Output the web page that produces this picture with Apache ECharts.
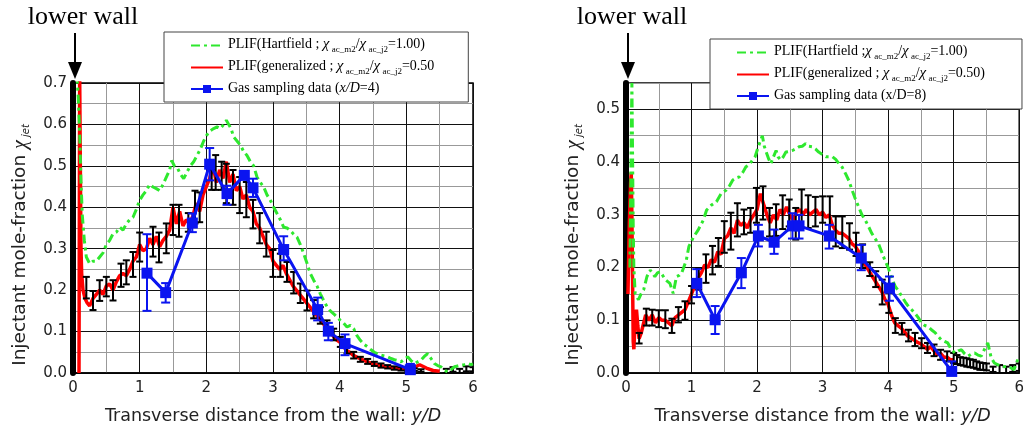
<!DOCTYPE html>
<html>
<head>
<meta charset="utf-8">
<style>
html, body { margin: 0; padding: 0; background: #fff; }
#chart { width: 1027px; height: 434px; }
</style>
<script src="https://cdn.jsdelivr.net/npm/echarts@6/dist/echarts.min.js"></script>
</head>
<body>
<div id="chart"></div>
<script>
// axis ranges
var X_MAX = 6;
var Y_MAX4 = 0.7;
var Y_MAX8 = 0.55;

// ---- x/D = 4 (left) ----
// PLIF Hartfield [y/D, chi]
var hart4 = [[0.06,0.72],[0.08,0.66],[0.10,0.58],[0.12,0.46],[0.14,0.38],[0.17,0.32],[0.20,0.28],[0.25,0.264],[0.30,0.27],[0.35,0.27],[0.40,0.28],[0.45,0.29],[0.50,0.31],[0.55,0.32],[0.60,0.336],[0.65,0.34],[0.70,0.352],[0.75,0.345],[0.80,0.36],[0.85,0.37],[0.90,0.376],[0.95,0.395],[1.00,0.417],[1.05,0.43],[1.10,0.44],[1.15,0.455],[1.20,0.449],[1.25,0.445],[1.30,0.44],[1.35,0.455],[1.40,0.473],[1.45,0.49],[1.48,0.513],[1.52,0.50],[1.56,0.497],[1.61,0.48],[1.66,0.469],[1.71,0.485],[1.76,0.50],[1.81,0.51],[1.86,0.525],[1.91,0.54],[1.96,0.56],[2.01,0.575],[2.06,0.585],[2.11,0.59],[2.16,0.594],[2.21,0.59],[2.26,0.60],[2.30,0.61],[2.33,0.611],[2.37,0.59],[2.41,0.57],[2.46,0.56],[2.51,0.55],[2.56,0.535],[2.61,0.525],[2.66,0.51],[2.71,0.50],[2.76,0.473],[2.81,0.46],[2.86,0.449],[2.91,0.43],[2.96,0.417],[3.01,0.40],[3.06,0.385],[3.11,0.37],[3.16,0.352],[3.21,0.35],[3.26,0.344],[3.31,0.335],[3.36,0.328],[3.41,0.31],[3.46,0.288],[3.51,0.265],[3.56,0.24],[3.61,0.224],[3.66,0.21],[3.71,0.191],[3.76,0.175],[3.81,0.16],[3.86,0.15],[3.91,0.143],[3.96,0.135],[4.01,0.127],[4.06,0.12],[4.11,0.111],[4.16,0.115],[4.21,0.107],[4.26,0.09],[4.31,0.079],[4.36,0.07],[4.42,0.063],[4.47,0.056],[4.52,0.05],[4.57,0.046],[4.62,0.043],[4.67,0.041],[4.72,0.039],[4.77,0.035],[4.82,0.032],[4.87,0.03],[4.92,0.027],[4.97,0.033],[5.02,0.039],[5.07,0.03],[5.12,0.023],[5.17,0.027],[5.22,0.031],[5.27,0.04],[5.32,0.047],[5.37,0.035],[5.42,0.023],[5.47,0.018],[5.52,0.015],[5.57,0.008],[5.62,0.002],[5.67,0.008],[5.72,0.015],[5.77,0.017],[5.82,0.019],[5.87,0.02],[5.92,0.023],[5.97,0.02],[6.0,0.022]];
// PLIF generalized
var gen4 = [[0.09,0.0],[0.10,0.72],[0.11,0.5],[0.12,0.3],[0.13,0.24],[0.15,0.2],[0.18,0.18],[0.21,0.17],[0.25,0.162],[0.28,0.165],[0.30,0.18],[0.35,0.19],[0.40,0.20],[0.45,0.19],[0.50,0.21],[0.55,0.215],[0.60,0.20],[0.65,0.22],[0.70,0.235],[0.75,0.24],[0.80,0.235],[0.85,0.25],[0.90,0.27],[0.95,0.28],[1.00,0.31],[1.05,0.295],[1.10,0.30],[1.15,0.325],[1.20,0.31],[1.25,0.33],[1.30,0.305],[1.35,0.32],[1.40,0.33],[1.45,0.345],[1.50,0.40],[1.55,0.36],[1.60,0.39],[1.65,0.355],[1.70,0.37],[1.75,0.36],[1.80,0.38],[1.85,0.41],[1.90,0.39],[1.95,0.43],[2.00,0.45],[2.05,0.47],[2.10,0.50],[2.15,0.46],[2.20,0.49],[2.25,0.47],[2.30,0.51],[2.35,0.46],[2.40,0.48],[2.45,0.44],[2.50,0.45],[2.55,0.42],[2.60,0.43],[2.65,0.40],[2.70,0.39],[2.75,0.36],[2.80,0.35],[2.85,0.33],[2.90,0.31],[2.95,0.30],[3.00,0.27],[3.05,0.26],[3.10,0.25],[3.15,0.26],[3.20,0.24],[3.25,0.225],[3.30,0.21],[3.35,0.20],[3.40,0.19],[3.45,0.18],[3.50,0.17],[3.55,0.16],[3.60,0.15],[3.65,0.14],[3.70,0.13],[3.75,0.12],[3.80,0.11],[3.85,0.10],[3.90,0.09],[3.95,0.08],[4.00,0.075],[4.05,0.065],[4.10,0.055],[4.15,0.05],[4.20,0.043],[4.30,0.035],[4.40,0.028],[4.50,0.022],[4.60,0.018],[4.70,0.015],[4.80,0.012],[4.90,0.01],[5.00,0.01],[5.10,0.012],[5.20,0.02],[5.30,0.012],[5.40,0.006],[5.50,0.004]];
// error bars of generalized PLIF [y/D, low, high]
var err4 = [[0.20,0.180,0.232],[0.30,0.152,0.198],[0.40,0.174,0.224],[0.50,0.185,0.232],[0.60,0.175,0.224],[0.72,0.208,0.264],[0.80,0.214,0.272],[0.90,0.232,0.292],[1.00,0.269,0.339],[1.20,0.281,0.353],[1.29,0.267,0.339],[1.40,0.289,0.361],[1.50,0.333,0.406],[1.59,0.329,0.406],[1.73,0.341,0.386],[1.83,0.361,0.440],[1.90,0.364,0.436],[2.08,0.442,0.490],[2.14,0.442,0.526],[2.23,0.442,0.510],[2.30,0.410,0.505],[2.40,0.406,0.490],[2.50,0.386,0.473],[2.60,0.376,0.461],[2.70,0.349,0.418],[2.80,0.313,0.386],[2.90,0.281,0.341],[3.00,0.232,0.297],[3.11,0.232,0.288],[3.21,0.220,0.268],[3.31,0.192,0.244],[3.41,0.169,0.216],[3.51,0.151,0.199],[3.61,0.132,0.176],[3.71,0.119,0.159],[3.81,0.095,0.127],[3.91,0.079,0.107],[4.01,0.063,0.087],[4.11,0.047,0.063],[4.21,0.035,0.051],[4.31,0.027,0.039],[4.42,0.022,0.034],[4.52,0.017,0.027],[4.62,0.013,0.023],[4.72,0.011,0.019],[4.82,0.008,0.016],[4.92,0.006,0.014],[5.02,0.005,0.011],[5.12,0.005,0.011],[5.22,0.003,0.009],[5.60,0.000,0.010],[5.70,0.003,0.014],[5.80,0.000,0.010],[5.90,0.004,0.016],[6.00,0.004,0.014]];
// gas sampling x/D=4
var gas4 = [[1.11,0.241],[1.39,0.194],[1.79,0.362],[2.05,0.504],[2.31,0.433],[2.57,0.477],[2.70,0.447],[3.16,0.298],[3.67,0.153],[3.83,0.101],[4.08,0.071],[5.06,0.008]];
var gasErr4 = [[1.11,0.150,0.335],[1.39,0.170,0.217],[1.79,0.340,0.385],[2.05,0.465,0.543],[2.31,0.406,0.452],[2.57,0.468,0.486],[2.70,0.425,0.469],[3.16,0.272,0.330],[3.67,0.127,0.182],[3.83,0.079,0.121],[4.08,0.043,0.093],[5.06,-0.01,0.022]];

// ---- x/D = 8 (right) ----
var hart8 = [[0.06,0.2],[0.08,0.45],[0.09,0.55],[0.10,0.42],[0.11,0.28],[0.12,0.2],[0.14,0.15],[0.19,0.139],[0.23,0.15],[0.27,0.158],[0.32,0.183],[0.37,0.195],[0.40,0.19],[0.44,0.183],[0.48,0.19],[0.52,0.192],[0.56,0.185],[0.60,0.177],[0.67,0.17],[0.72,0.151],[0.77,0.183],[0.81,0.185],[0.85,0.19],[0.88,0.2],[0.92,0.214],[0.96,0.24],[1.03,0.258],[1.10,0.271],[1.18,0.29],[1.23,0.309],[1.30,0.318],[1.38,0.325],[1.45,0.34],[1.53,0.347],[1.58,0.355],[1.63,0.366],[1.68,0.37],[1.73,0.372],[1.78,0.38],[1.83,0.391],[1.88,0.395],[1.93,0.404],[1.97,0.41],[2.01,0.426],[2.05,0.44],[2.08,0.45],[2.11,0.43],[2.14,0.419],[2.18,0.405],[2.21,0.397],[2.25,0.41],[2.29,0.422],[2.32,0.41],[2.36,0.404],[2.40,0.41],[2.44,0.419],[2.49,0.42],[2.54,0.422],[2.59,0.425],[2.64,0.429],[2.69,0.43],[2.74,0.435],[2.79,0.43],[2.84,0.429],[2.89,0.425],[2.94,0.419],[2.99,0.415],[3.05,0.41],[3.10,0.41],[3.15,0.41],[3.20,0.405],[3.25,0.397],[3.30,0.39],[3.35,0.378],[3.40,0.365],[3.45,0.347],[3.50,0.33],[3.55,0.315],[3.60,0.30],[3.65,0.29],[3.70,0.278],[3.75,0.265],[3.80,0.255],[3.85,0.246],[3.90,0.23],[3.95,0.214],[4.00,0.2],[4.03,0.189],[4.07,0.175],[4.11,0.164],[4.16,0.155],[4.21,0.145],[4.26,0.135],[4.31,0.126],[4.36,0.12],[4.41,0.113],[4.46,0.105],[4.51,0.095],[4.56,0.09],[4.61,0.088],[4.66,0.082],[4.72,0.076],[4.76,0.07],[4.81,0.063],[4.86,0.06],[4.91,0.057],[4.96,0.045],[5.02,0.038],[5.07,0.042],[5.12,0.044],[5.17,0.036],[5.22,0.032],[5.27,0.036],[5.32,0.038],[5.37,0.034],[5.42,0.032],[5.47,0.045],[5.52,0.057],[5.57,0.03],[5.62,0.019],[5.67,0.016],[5.72,0.013],[5.77,0.012],[5.82,0.013],[5.87,0.01],[5.92,0.006],[5.96,0.02],[6.0,0.032]];
var gen8 = [[0.03,0.15],[0.05,0.28],[0.07,0.36],[0.08,0.38],[0.09,0.3],[0.10,0.18],[0.11,0.06],[0.12,0.045],[0.14,0.1],[0.16,0.12],[0.18,0.09],[0.20,0.065],[0.23,0.075],[0.26,0.09],[0.30,0.11],[0.35,0.10],[0.40,0.11],[0.45,0.095],[0.50,0.105],[0.55,0.10],[0.60,0.10],[0.65,0.095],[0.70,0.09],[0.75,0.105],[0.80,0.11],[0.85,0.115],[0.90,0.12],[0.95,0.135],[1.00,0.15],[1.05,0.165],[1.10,0.18],[1.15,0.19],[1.20,0.205],[1.25,0.20],[1.30,0.215],[1.35,0.21],[1.40,0.23],[1.45,0.225],[1.50,0.255],[1.55,0.26],[1.60,0.275],[1.65,0.265],[1.70,0.29],[1.75,0.28],[1.80,0.285],[1.85,0.275],[1.90,0.29],[1.95,0.30],[2.00,0.31],[2.05,0.34],[2.10,0.32],[2.15,0.30],[2.20,0.285],[2.25,0.30],[2.30,0.29],[2.35,0.31],[2.40,0.30],[2.45,0.315],[2.50,0.30],[2.55,0.29],[2.60,0.305],[2.65,0.31],[2.70,0.30],[2.75,0.31],[2.80,0.30],[2.85,0.305],[2.90,0.31],[2.95,0.30],[3.00,0.305],[3.05,0.295],[3.10,0.30],[3.15,0.28],[3.20,0.27],[3.25,0.265],[3.30,0.265],[3.35,0.26],[3.40,0.255],[3.45,0.245],[3.50,0.24],[3.55,0.23],[3.60,0.22],[3.65,0.205],[3.70,0.195],[3.75,0.185],[3.80,0.175],[3.85,0.165],[3.90,0.155],[3.95,0.14],[4.00,0.13],[4.05,0.11],[4.10,0.095],[4.15,0.09],[4.20,0.085],[4.25,0.078],[4.30,0.07],[4.35,0.066],[4.40,0.062],[4.45,0.058],[4.50,0.055],[4.55,0.05],[4.60,0.045],[4.65,0.05],[4.70,0.042],[4.75,0.035],[4.80,0.037],[4.85,0.03],[4.90,0.03],[4.95,0.025],[5.00,0.025]];
var err8 = [[0.20,0.056,0.076],[0.31,0.090,0.122],[0.40,0.090,0.120],[0.50,0.087,0.119],[0.60,0.085,0.119],[0.70,0.076,0.103],[0.80,0.096,0.125],[0.90,0.101,0.136],[1.00,0.132,0.165],[1.11,0.158,0.199],[1.22,0.171,0.225],[1.32,0.187,0.241],[1.41,0.203,0.256],[1.50,0.228,0.288],[1.60,0.234,0.304],[1.70,0.259,0.322],[1.80,0.263,0.310],[1.90,0.266,0.313],[1.99,0.285,0.351],[2.09,0.291,0.354],[2.19,0.259,0.313],[2.29,0.260,0.320],[2.39,0.273,0.337],[2.49,0.278,0.329],[2.59,0.253,0.313],[2.68,0.275,0.348],[2.78,0.275,0.337],[2.89,0.278,0.334],[3.00,0.285,0.335],[3.11,0.266,0.335],[3.20,0.240,0.297],[3.30,0.237,0.297],[3.41,0.234,0.284],[3.51,0.222,0.266],[3.61,0.199,0.244],[3.72,0.184,0.210],[3.81,0.163,0.193],[3.91,0.130,0.177],[4.01,0.114,0.152],[4.11,0.076,0.104],[4.21,0.073,0.095],[4.31,0.060,0.082],[4.41,0.051,0.076],[4.51,0.047,0.066],[4.60,0.038,0.057],[4.70,0.032,0.054],[4.80,0.025,0.044],[4.90,0.022,0.041],[5.00,0.019,0.038],[5.05,0.017,0.034],[5.10,0.015,0.030],[5.15,0.014,0.029],[5.20,0.012,0.028],[5.25,0.011,0.026],[5.30,0.010,0.025],[5.35,0.008,0.022],[5.40,0.006,0.020],[5.45,0.006,0.019],[5.50,0.005,0.018],[5.60,0.002,0.012],[5.70,0.000,0.015],[5.80,0.000,0.012],[5.90,0.002,0.015],[6.00,0.004,0.018]];
var gas8 = [[1.08,0.170],[1.36,0.101],[1.76,0.190],[2.02,0.260],[2.26,0.248],[2.54,0.279],[2.64,0.279],[3.10,0.260],[3.59,0.218],[4.02,0.161],[4.97,0.003]];
var gasErr8 = [[1.08,0.144,0.197],[1.36,0.074,0.127],[1.76,0.161,0.218],[2.02,0.240,0.281],[2.26,0.226,0.272],[2.54,0.255,0.303],[2.64,0.255,0.300],[3.10,0.236,0.281],[3.59,0.195,0.243],[4.02,0.137,0.183],[4.97,-0.01,0.022]];

// legend labels (rich text)
var legendText = {
  hart4: '{t|PLIF(Hartfield ; }{g|χ}{s| ac_m2}{t|/}{g|χ}{s| ac_j2}{t|=1.00)}',
  gen4: '{t|PLIF(generalized ; }{g|χ}{s| ac_m2}{t|/}{g|χ}{s| ac_j2}{t|=0.50}',
  gas4: '{t|Gas sampling data (}{i|x/D}{t|=4)}',
  hart8: '{t|PLIF(Hartfield ;}{g|χ}{s| ac_m2}{t|/}{g|χ}{s| ac_j2}{t|=1.00)}',
  gen8: '{t|PLIF(generalized ; }{g|χ}{s| ac_m2}{t|/}{g|χ}{s| ac_j2}{t|=0.50)}',
  gas8: '{t|Gas sampling data (x/D=8)}'
};

var GREEN = '#2ee82e', RED = '#ff0000', BLUE = '#0a14f0';
var SANS = 'DejaVu Sans', SERIF = 'Liberation Serif';

var myChart = echarts.init(document.getElementById('chart'));

//误差棒
function errBar(color, half, width) {
  return function (params, api) {
    var x = api.value(0);
    var lo = api.coord([x, api.value(1)]);
    var hi = api.coord([x, api.value(2)]);
    var st = {stroke: color, lineWidth: width};
    return {
      type: 'group',
      children: [
        {type: 'line', shape: {x1: lo[0], y1: lo[1], x2: hi[0], y2: hi[1]}, style: st},
        {type: 'line', shape: {x1: hi[0] - half, y1: hi[1], x2: hi[0] + half, y2: hi[1]}, style: st},
        {type: 'line', shape: {x1: lo[0] - half, y1: lo[1], x2: lo[0] + half, y2: lo[1]}, style: st}
      ]
    };
  };
}

function tenth(v) {
  return Math.abs(v * 10 - Math.round(v * 10)) < 1e-6;
}

function makeX(gi) {
  return {
    type: 'value', gridIndex: gi, min: 0, max: X_MAX, interval: 0.5,
    name: '{a|Transverse distance from the wall: }{i|y/D}',
    nameLocation: 'middle', nameGap: 34,
    nameTextStyle: {
      rich: {
        a: {fontFamily: SANS, fontSize: 17.5, color: '#222'},
        i: {fontFamily: SANS, fontSize: 17.5, color: '#222', fontStyle: 'italic'}
      }
    },
    axisLine: {lineStyle: {color: '#000', width: 1.5}},
    axisTick: {show: false},
    axisLabel: {
      margin: 8, fontFamily: SANS, fontSize: 15, color: '#222',
      formatter: function (v) { return Math.abs(v - Math.round(v)) < 1e-6 ? String(Math.round(v)) : ''; }
    },
    splitLine: {show: true, lineStyle: {color: ['#111', '#999'], width: 1}}
  };
}

function makeY(gi, max) {
  return {
    type: 'value', gridIndex: gi, min: 0, max: max, interval: 0.05,
    name: '{a|Injectant mole-fraction }{c|χ}{b| jet}',
    nameLocation: 'middle', nameGap: 42, nameRotate: 90,
    nameTextStyle: {
      padding: [0, 34, 0, 0],
      rich: {
        a: {fontFamily: SANS, fontSize: 18.5, color: '#222', lineHeight: 21},
        c: {fontFamily: SERIF, fontSize: 20, color: '#222', fontStyle: 'italic', lineHeight: 21},
        b: {fontFamily: SANS, fontSize: 10, color: '#222', fontStyle: 'italic', lineHeight: 10, padding: [12, 0, 0, 0]}
      }
    },
    axisLine: {lineStyle: {color: '#000', width: 6}},
    axisTick: {show: false},
    axisLabel: {
      margin: 6, fontFamily: SANS, fontSize: 15, color: '#222',
      formatter: function (v) { return tenth(v) ? v.toFixed(1) : ''; }
    },
    splitLine: {show: true, lineStyle: {color: ['#111', '#999'], width: 1}}
  };
}

// 图例：曲线只显示线，不显示圆点
function makeLegend(left, top, names, padRight) {
  return {
    left: left, top: top, orient: 'vertical', selectedMode: false,
    data: [
      {name: names[0], itemStyle: {opacity: 0}},
      {name: names[1], itemStyle: {opacity: 0}},
      {name: names[2]}
    ],
    backgroundColor: '#fff', borderColor: '#444', borderWidth: 1,
    padding: [5, padRight, 5, 26], itemWidth: 32, itemHeight: 10, itemGap: 5,
    formatter: function (n) { return legendText[n]; },
    textStyle: {
      rich: {
        t: {fontFamily: SERIF, fontSize: 14, color: '#000', lineHeight: 16, padding: [0, 0, 2, 0]},
        i: {fontFamily: SERIF, fontSize: 14, color: '#000', fontStyle: 'italic', lineHeight: 16, padding: [0, 0, 2, 0]},
        g: {fontFamily: SERIF, fontSize: 15, color: '#000', fontStyle: 'italic', lineHeight: 16, padding: [0, 0, 2, 0]},
        s: {fontFamily: SERIF, fontSize: 9, color: '#000', lineHeight: 10, padding: [8, 0, 0, 0]}
      }
    }
  };
}

function lineSeries(name, gi, data, color, width, dash, z) {
  return {
    name: name, type: 'line', xAxisIndex: gi, yAxisIndex: gi, data: data,
    symbol: 'none', smooth: false, z: z, animation: false,
    lineStyle: {color: color, width: width, type: dash || 'solid'},
    itemStyle: {color: color}
  };
}

function gasSeries(name, gi, data) {
  return {
    name: name, type: 'line', xAxisIndex: gi, yAxisIndex: gi, data: data,
    symbol: 'rect', symbolSize: 11, showSymbol: true, z: 6, animation: false,
    lineStyle: {color: BLUE, width: 3},
    itemStyle: {color: BLUE}
  };
}

function errSeries(name, gi, data, color, half, width, z) {
  return {
    name: name, type: 'custom', xAxisIndex: gi, yAxisIndex: gi, data: data,
    encode: {x: 0, y: [1, 2]}, clip: true, z: z, animation: false,
    renderItem: errBar(color, half, width)
  };
}

var DASH = [9, 4, 3, 4];

var option = {
  backgroundColor: '#fff',
  animation: false,
  grid: [
    {left: 73, top: 83, width: 400, height: 290, show: true, borderColor: '#000', borderWidth: 1.5},
    {left: 626, top: 83, width: 397, height: 290, show: true, borderColor: '#000', borderWidth: 1.5}
  ],
  xAxis: [makeX(0), makeX(1)],
  yAxis: [makeY(0, Y_MAX4), makeY(1, Y_MAX8)],
  legend: [
    makeLegend(164, 32, ['hart4', 'gen4', 'gas4'], 34),
    makeLegend(710, 39, ['hart8', 'gen8', 'gas8'], 37)
  ],
  series: [
    lineSeries('gen4', 0, gen4, RED, 3.5, null, 2),
    errSeries('err4', 0, err4, '#000', 3.5, 2, 3),
    lineSeries('hart4', 0, hart4, GREEN, 3, DASH, 4),
    errSeries('gasErr4', 0, gasErr4, BLUE, 4.5, 2, 5),
    gasSeries('gas4', 0, gas4),

    lineSeries('gen8', 1, gen8, RED, 3.5, null, 2),
    errSeries('err8', 1, err8, '#000', 3.5, 2, 3),
    lineSeries('hart8', 1, hart8, GREEN, 3, DASH, 4),
    errSeries('gasErr8', 1, gasErr8, BLUE, 4.5, 2, 5),
    gasSeries('gas8', 1, gas8)
  ]
};

myChart.setOption(option);

// "lower wall" 标注
function wallNote(gi, ymax, dx) {
  var p = myChart.convertToPixel({gridIndex: gi}, [0, ymax]);
  var ax = p[0] + 2;
  return [
    {type: 'text', x: p[0] + dx, y: 17, style: {text: 'lower wall', font: '26px "Liberation Serif"', fill: '#000', align: 'center', verticalAlign: 'middle'}},
    {type: 'line', shape: {x1: ax, y1: 33, x2: ax, y2: 64}, style: {stroke: '#000', lineWidth: 2}},
    {type: 'polygon', shape: {points: [[ax - 7, 62], [ax + 7, 62], [ax, 79]]}, style: {fill: '#000'}}
  ];
}

myChart.setOption({graphic: wallNote(0, Y_MAX4, 10).concat(wallNote(1, Y_MAX8, 6))});
</script>
</body>
</html>
